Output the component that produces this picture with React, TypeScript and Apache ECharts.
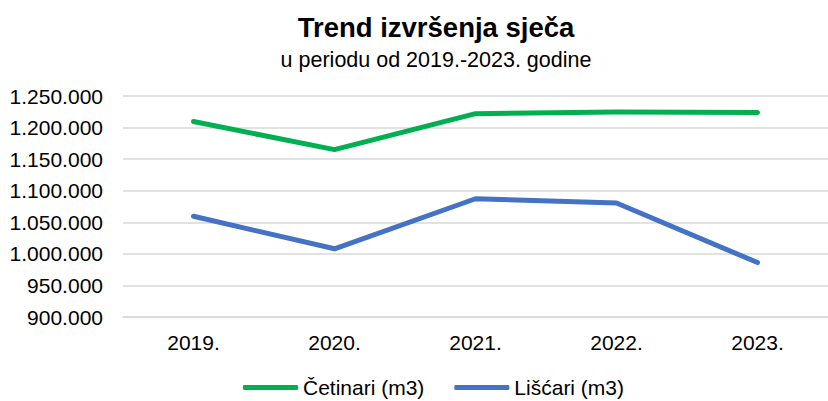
import React, { useEffect, useRef } from "react";
import * as echarts from "echarts";

const categories = ["2019.", "2020.", "2021.", "2022.", "2023."];
const cetinari = [1209500, 1165000, 1222000, 1224500, 1224000];
const liscari = [1059500, 1008000, 1087300, 1080500, 986200];
const seriesNames = ["Četinari (m3)", "Lišćari (m3)"];
const titleText = "Trend izvršenja sječa";
const subtitleText = "u periodu od 2019.-2023. godine";

const FONT = "'Liberation Sans', Arial, sans-serif";

function fmt(v: number): string {
  return String(Math.round(v)).replace(/\B(?=(\d{3})+(?!\d))/g, ".");
}

export default function App() {
  const ref = useRef<HTMLDivElement>(null);
  useEffect(() => {
    if (!ref.current) return;
    const chart = echarts.init(ref.current, null, { renderer: "svg" });
    chart.setOption({
      animation: false,
      backgroundColor: "#ffffff",
      title: [
        {
          text: titleText,
          left: 431,
          top: 8,
          textAlign: "center",
          textStyle: { fontFamily: FONT, fontSize: 27.5, fontWeight: "bold", color: "#000" },
        },
        {
          text: subtitleText,
          left: 431,
          top: 44,
          textAlign: "center",
          textStyle: { fontFamily: FONT, fontSize: 21.5, fontWeight: "normal", color: "#000" },
        },
      ],
      legend: {
        data: seriesNames,
        top: 372,
        left: 238,
        itemWidth: 55,
        itemHeight: 5,
        itemGap: 30,
        icon: "roundRect",
        textStyle: { fontFamily: FONT, fontSize: 21, color: "#000" },
      },
      grid: { left: 123, top: 96, width: 718, height: 221, containLabel: false },
      xAxis: {
        type: "category",
        data: categories,
        boundaryGap: true,
        axisLine: { show: true, lineStyle: { color: "#d9d9d9", width: 1.5 } },
        axisTick: { show: false },
        axisLabel: { fontFamily: FONT, fontSize: 21, color: "#000", margin: 15 },
      },
      yAxis: {
        type: "value",
        min: 900000,
        max: 1250000,
        interval: 50000,
        axisLine: { show: false },
        axisTick: { show: false },
        splitLine: { lineStyle: { color: "#d9d9d9", width: 1.5 } },
        axisLabel: {
          fontFamily: FONT,
          fontSize: 21,
          color: "#000",
          margin: 20,
          formatter: (v: number) => fmt(v),
        },
      },
      series: [
        {
          name: seriesNames[0],
          type: "line",
          data: cetinari,
          showSymbol: false,
          symbol: "none",
          lineStyle: { color: "#00B050", width: 5, cap: "round", join: "round" },
          itemStyle: { color: "#00B050" },
        },
        {
          name: seriesNames[1],
          type: "line",
          data: liscari,
          showSymbol: false,
          symbol: "none",
          lineStyle: { color: "#4472C4", width: 5, cap: "round", join: "round" },
          itemStyle: { color: "#4472C4" },
        },
      ],
    });
    return () => chart.dispose();
  }, []);
  return <div ref={ref} style={{ width: 828, height: 401, position: "absolute", left: 0, top: 0 }} />;
}
